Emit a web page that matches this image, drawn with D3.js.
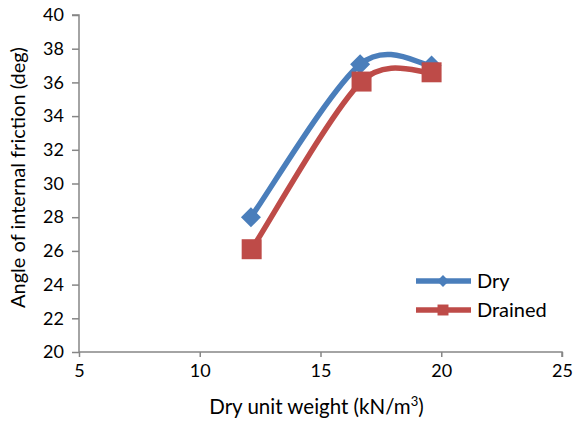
<!DOCTYPE html>
<html>
<head>
<meta charset="utf-8">
<script src="https://cdn.jsdelivr.net/npm/d3@7"></script>
<style>
  html, body { margin: 0; padding: 0; background: #fff; }
  svg { display: block; }
  text { font-family: Lato, "Open Sans", sans-serif; fill: #000; }
</style>
</head>
<body>
<svg id="chart" width="577" height="421"></svg>
<script>
// Dry unit weight (kN/m3) against angle of internal friction (deg)
const dryWeight = [12.12, 16.64, 19.6];
const dryAngle = [28.0, 37.07, 37.0];
const drainedWeight = [12.15, 16.7, 19.6];
const drainedAngle = [26.1, 36.05, 36.6];
const xTicks = [5, 10, 15, 20, 25];
const yTicks = [20, 22, 24, 26, 28, 30, 32, 34, 36, 38, 40];
const seriesNames = ["Dry", "Drained"];

const svg = d3.select("#chart");
const margin = { left: 79, right: 15, top: 15, bottom: 69 };
const W = 577, H = 421;

const x = d3.scaleLinear().domain([5, 25]).range([margin.left, W - margin.right]);
const y = d3.scaleLinear().domain([20, 40]).range([H - margin.bottom, margin.top]);

const axisColor = "#868686";
const tickFont = "18px";
const titleFont = "20px";

// axes
const gx = svg.append("g")
  .attr("transform", `translate(0,${y(20)})`)
  .call(d3.axisBottom(x).tickValues(xTicks).tickSize(5).tickPadding(7));
const gy = svg.append("g")
  .attr("transform", `translate(${x(5)},0)`)
  .call(d3.axisLeft(y).tickValues(yTicks).tickSize(7).tickPadding(8));
[gx, gy].forEach(g => {
  g.selectAll("path.domain").attr("stroke", axisColor).attr("stroke-width", 1.5);
  g.selectAll(".tick line").attr("stroke", axisColor).attr("stroke-width", 1.5);
  g.selectAll(".tick text").style("font-size", tickFont).style("font-family", "Lato, 'Open Sans', sans-serif").attr("fill", "#000");
});
gy.select("path.domain").attr("d", `M-7,${y(40)}H0V${y(20)}`);
gx.select("path.domain").attr("d", `M${x(5)},0H${x(25)}V5`);

// axis titles
const xt = svg.append("text")
  .attr("x", (x(5) + x(25)) / 2 - 4).attr("y", 414)
  .attr("text-anchor", "middle")
  .style("font-size", "20.5px");
xt.append("tspan").text("Dry unit weight (kN/m");
xt.append("tspan").text("3").attr("dy", -8).style("font-size", "13px");
xt.append("tspan").text(")").attr("dy", 8);

svg.append("text")
  .attr("transform", `translate(25,${(y(20) + y(40)) / 2 - 6}) rotate(-90)`)
  .attr("text-anchor", "middle")
  .style("font-size", titleFont)
  .text("Angle of internal friction (deg)");

const colors = ["#4A7EBB", "#BE4B48"];
const series = [
  dryWeight.map((w, i) => [w, dryAngle[i]]),
  drainedWeight.map((w, i) => [w, drainedAngle[i]])
];

// Spreadsheet-style smoothed line: cubic Bezier segments whose control points
// follow the neighbouring points (1/6 tension), capped at half the segment length.
function smoothPath(pts) {
  const p = pts.map(d => [x(d[0]), y(d[1])]);
  const dist = (a, b) => Math.hypot(b[0] - a[0], b[1] - a[1]);
  const path = d3.path();
  path.moveTo(p[0][0], p[0][1]);
  for (let i = 0; i < p.length - 1; i++) {
    const p0 = p[Math.max(i - 1, 0)], p1 = p[i], p2 = p[i + 1], p3 = p[Math.min(i + 2, p.length - 1)];
    const d12 = dist(p1, p2), d02 = dist(p0, p2), d13 = dist(p1, p3);
    const f0 = d02 > 0 ? Math.min(1 / 6, d12 / (2 * d02)) : 0;
    const f3 = d13 > 0 ? Math.min(1 / 6, d12 / (2 * d13)) : 0;
    const c1 = [p1[0] + f0 * (p2[0] - p0[0]), p1[1] + f0 * (p2[1] - p0[1])];
    const c2 = [p2[0] - f3 * (p3[0] - p1[0]), p2[1] - f3 * (p3[1] - p1[1])];
    path.bezierCurveTo(c1[0], c1[1], c2[0], c2[1], p2[0], p2[1]);
  }
  return path.toString();
}

const diamond = d3.symbol().type(d3.symbolSquare).size(200);
const square = d3.symbol().type(d3.symbolSquare).size(400);

series.forEach((pts, i) => {
  svg.append("path")
    .attr("d", smoothPath(pts))
    .attr("fill", "none")
    .attr("stroke", colors[i])
    .attr("stroke-width", 5.5)
    .attr("stroke-linecap", "round");
});
series.forEach((pts, i) => {
  svg.selectAll(null).data(pts).enter().append("path")
    .attr("d", i === 0 ? diamond() : square())
    .attr("transform", d => `translate(${x(d[0])},${y(d[1])})` + (i === 0 ? " rotate(45)" : ""))
    .attr("fill", colors[i]);
});

// legend
const legend = svg.append("g");
seriesNames.forEach((name, i) => {
  const ly = 281 + i * 29;
  legend.append("line")
    .attr("x1", 416).attr("x2", 471).attr("y1", ly).attr("y2", ly)
    .attr("stroke", colors[i]).attr("stroke-width", 5.5);
  legend.append("path")
    .attr("d", i === 0 ? d3.symbol().type(d3.symbolSquare).size(70)() : d3.symbol().type(d3.symbolSquare).size(120)())
    .attr("transform", `translate(443,${ly})` + (i === 0 ? " rotate(45)" : ""))
    .attr("fill", colors[i]);
  legend.append("text")
    .attr("x", 477).attr("y", ly + 7)
    .style("font-size", titleFont)
    .text(name);
});
</script>
</body>
</html>
